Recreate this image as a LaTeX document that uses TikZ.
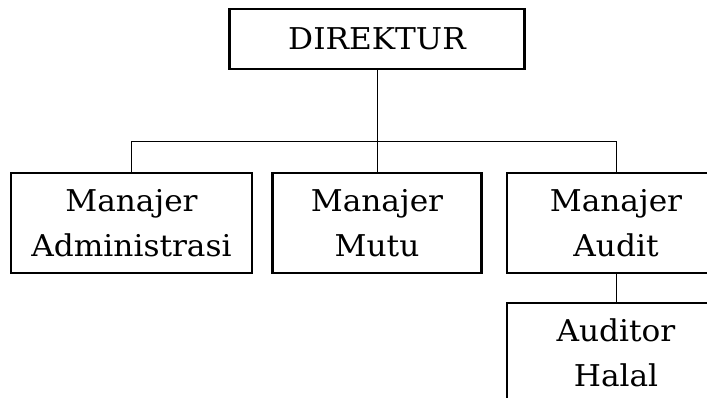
\documentclass[tikz,border=0pt]{standalone}
\usepackage{fontspec}
\setmainfont{DejaVu Serif}[FakeStretch=1.04]
\usepackage{tikz}
\usetikzlibrary{positioning}
\usetikzlibrary{calc}

\begin{document}
\begin{tikzpicture}[x=1pt, y=1pt, every node/.style={draw, rectangle, line width=2.8pt, align=center, inner sep=0pt, minimum height=100pt, font=\fontsize{30}{45}\selectfont}]
			\useasboundingbox (0,0) rectangle (707,398);
			\node[minimum width=295pt, minimum height=60pt](direktur) at (377,359){DIREKTUR};
			\foreach \name/\x/\w/\txt in {adm/131.5/241/{Manajer\\Administrasi}, mutu/377/209/{Manajer\\Mutu}, audit/616/218/{Manajer\\Audit}}
			{
				\node[minimum width=\w pt](\name) at (\x,175){\txt};
			}
			\node[minimum width=218pt](halal) at (616,45){Auditor\\Halal};
			\draw[-, line width=1pt] (direktur.south) -- (mutu.north);
			\draw[-, line width=1pt] (adm.north) -- ++(0,30) -| (audit.north);
			\draw[-, line width=1pt] (audit.south) -- (halal.north);
		\end{tikzpicture}
\end{document}
